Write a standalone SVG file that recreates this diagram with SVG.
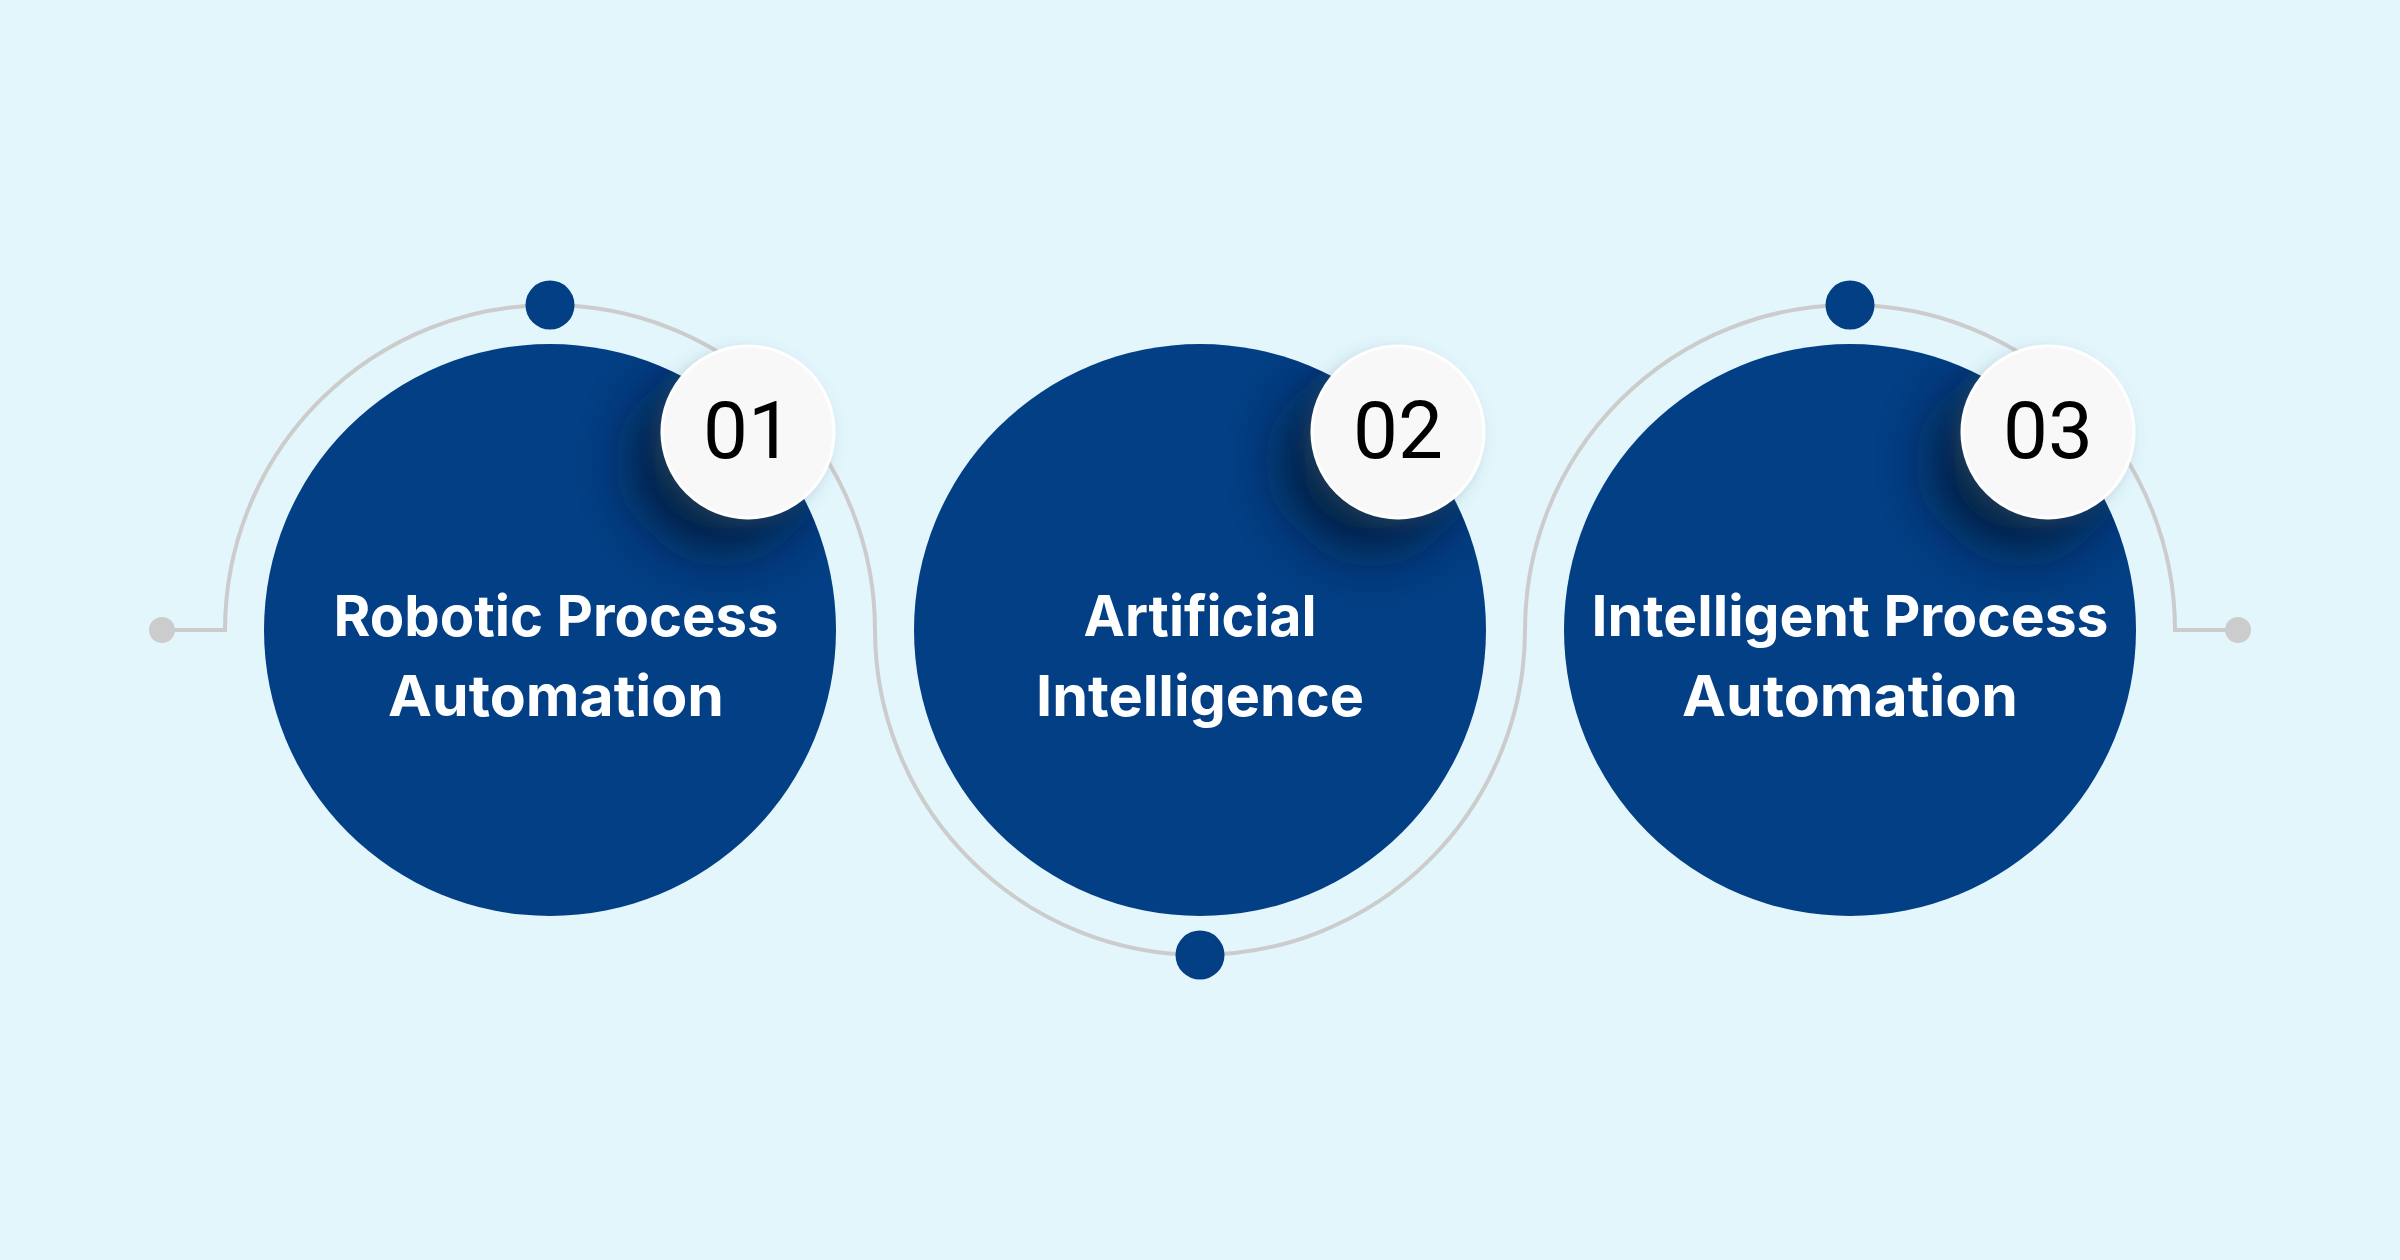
<svg xmlns="http://www.w3.org/2000/svg" width="2400" height="1260" viewBox="0 0 2400 1260">
  <defs>
    <style>
      .big { fill: #033F84; }
      .dot { fill: #033F84; }
      .end { fill: #CCCCCC; }
      .line { fill: none; stroke: #CCCCCC; stroke-width: 4; }
      .badge { fill: #F8F8F8; stroke: #FFFFFF; stroke-width: 3; }
      .shade { fill: #00152F; opacity: 0.85; }
      .num { font-family: Roboto, "Liberation Sans", sans-serif; font-size: 80px; font-weight: 400; fill: #000000; text-anchor: middle; }
      .lbl { font-family: Inter, "Open Sans", "Liberation Sans", sans-serif; font-size: 56px; font-weight: 700; fill: #FFFFFF; text-anchor: middle; }
    </style>
    <filter id="blur" x="-80%" y="-80%" width="260%" height="260%">
      <feGaussianBlur stdDeviation="28"/>
    </filter>
    <filter id="soft" x="-50%" y="-50%" width="200%" height="200%">
      <feDropShadow dx="-6" dy="6" stdDeviation="8" flood-color="#5a6e80" flood-opacity="0.3"/>
    </filter>
    <clipPath id="c1"><circle cx="550" cy="630" r="286"/></clipPath>
    <clipPath id="c2"><circle cx="1200" cy="630" r="286"/></clipPath>
    <clipPath id="c3"><circle cx="1850" cy="630" r="286"/></clipPath>
  </defs>
  <rect x="0" y="0" width="2400" height="1260" fill="#E2F6FC"/>

  <g id="connectors">
    <path class="line" d="M 162 630 H 225 A 325 325 0 0 1 875 630 A 325 325 0 0 0 1525 630 A 325 325 0 0 1 2175 630 H 2238"/>
    <circle class="end" cx="162" cy="630" r="13"/>
    <circle class="end" cx="2238" cy="630" r="13"/>
  </g>

  <g id="node-1">
    <circle class="dot" cx="550" cy="305" r="24.5"/>
    <circle class="big" cx="550" cy="630" r="286"/>
    <g clip-path="url(#c1)"><circle class="shade" cx="722" cy="462" r="88" filter="url(#blur)"/></g>
    <circle class="badge" cx="748" cy="432" r="86" filter="url(#soft)"/>
    <text class="num" x="748" y="458">01</text>
    <text class="lbl" x="556" y="636" textLength="445" lengthAdjust="spacingAndGlyphs">Robotic Process</text>
    <text class="lbl" x="556" y="716" textLength="336" lengthAdjust="spacingAndGlyphs">Automation</text>
  </g>

  <g id="node-2">
    <circle class="dot" cx="1200" cy="955" r="24.5"/>
    <circle class="big" cx="1200" cy="630" r="286"/>
    <g clip-path="url(#c2)"><circle class="shade" cx="1372" cy="462" r="88" filter="url(#blur)"/></g>
    <circle class="badge" cx="1398" cy="432" r="86" filter="url(#soft)"/>
    <text class="num" x="1398" y="458">02</text>
    <text class="lbl" x="1200" y="636" textLength="233" lengthAdjust="spacingAndGlyphs">Artificial</text>
    <text class="lbl" x="1200" y="716" textLength="328" lengthAdjust="spacingAndGlyphs">Intelligence</text>
  </g>

  <g id="node-3">
    <circle class="dot" cx="1850" cy="305" r="24.5"/>
    <circle class="big" cx="1850" cy="630" r="286"/>
    <g clip-path="url(#c3)"><circle class="shade" cx="2022" cy="462" r="88" filter="url(#blur)"/></g>
    <circle class="badge" cx="2048" cy="432" r="86" filter="url(#soft)"/>
    <text class="num" x="2048" y="458">03</text>
    <text class="lbl" x="1850" y="636" textLength="517" lengthAdjust="spacingAndGlyphs">Intelligent Process</text>
    <text class="lbl" x="1850" y="716" textLength="336" lengthAdjust="spacingAndGlyphs">Automation</text>
  </g>
</svg>
